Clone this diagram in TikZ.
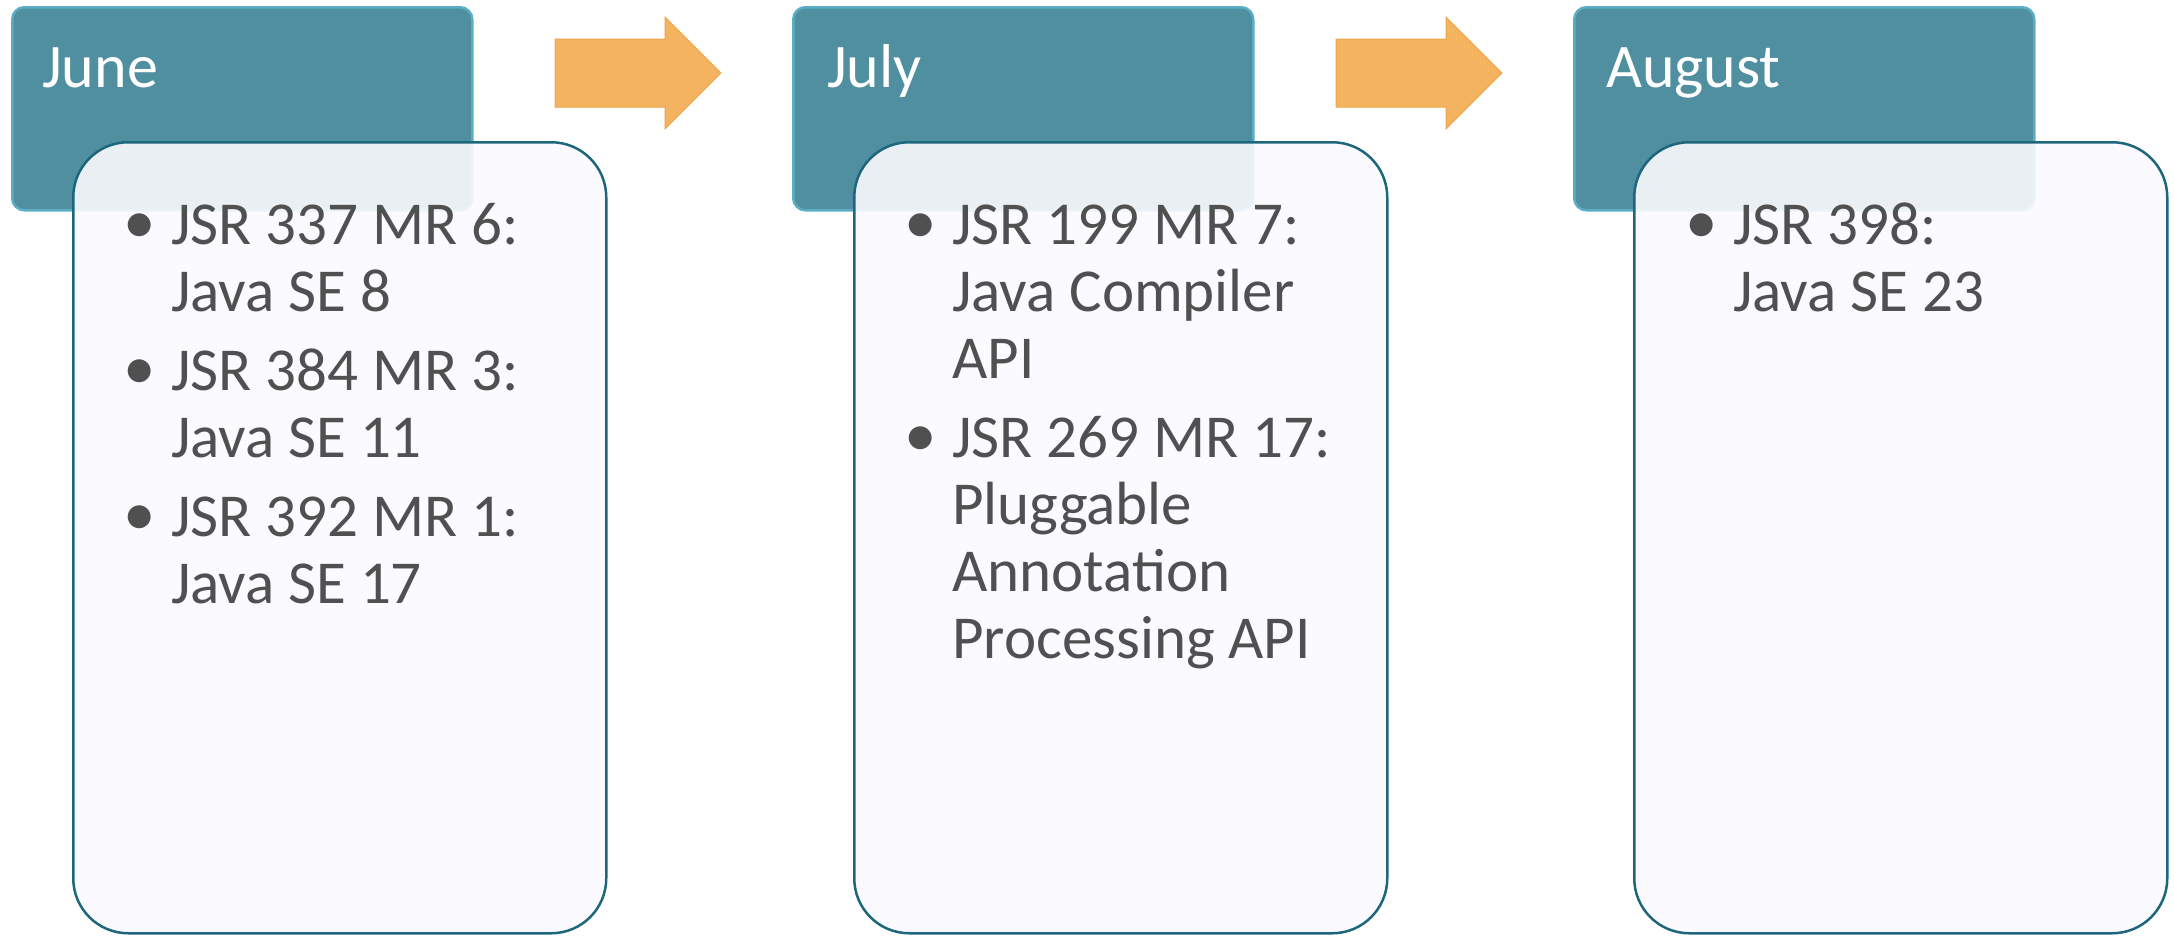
\documentclass[tikz,border=0pt]{standalone}
\usepackage{fontspec}
\setmainfont{Carlito}
\definecolor{hdrfill}{HTML}{4F8FA0}
\definecolor{hdredge}{HTML}{5BADC4}
\definecolor{bodyfill}{HTML}{FBFAFE}
\definecolor{bodyedge}{HTML}{1E667C}
\definecolor{txt}{HTML}{505050}
\definecolor{arrfill}{HTML}{F4B35E}
\definecolor{arredge}{HTML}{EFA54E}
\newcommand{\bigbullet}{\makebox[42pt][l]{\hspace*{-6pt}\raisebox{1pt}{\fontsize{65}{67}\selectfont\textbullet}}}
\newcommand{\bitem}[1]{\hangindent=42pt\hangafter=1\noindent\bigbullet#1\par}
\newcommand{\blist}[1]{\begin{minipage}[t]{470pt}\raggedright\fontsize{61}{67}\selectfont\setlength{\parskip}{12pt}#1\end{minipage}}
\tikzset{
  hdr/.style={draw=hdredge, line width=2.5pt, fill=hdrfill, rounded corners=12pt, minimum width=460pt, minimum height=203pt, anchor=north west, inner sep=0pt},
  hdrtext/.style={text=white, font=\fontsize{62}{67}\selectfont, anchor=base west, inner sep=0pt},
  bodybox/.style={draw=bodyedge, line width=2.5pt, fill=bodyfill, fill opacity=0.9, rounded corners=55pt, minimum width=533pt, minimum height=791pt, anchor=north west, inner sep=0pt},
  bodytext/.style={text=txt, anchor=base west, inner sep=0pt},
  arrowshape/.style={fill=arrfill, draw=arredge, line width=1pt, line join=miter}
}
\begin{document}
\begin{tikzpicture}[x=1pt,y=-1pt]
\useasboundingbox (0,0) rectangle (2174,935);
% June
\node[hdr] (h1) at (11,6) {};
\node[hdrtext] (ht1) at (42,87) {June};
\node[bodybox] (b1) at (72,141) {};
\node[bodytext] (bt1) at (129,244) {\blist{\bitem{JSR 337 MR 6:\newline Java SE 8}\bitem{JSR 384 MR 3:\newline Java SE 11}\bitem{JSR 392 MR 1:\newline Java SE 17}}};
% arrow 1
\draw[arrowshape] (555,39) -- (665,39) -- (665,17) -- (721,73) -- (665,129) -- (665,107) -- (555,107) -- cycle;
% July
\node[hdr] (h2) at (792,6) {};
\node[hdrtext] (ht2) at (827,87) {July};
\node[bodybox] (b2) at (853,141) {};
\node[bodytext] (bt2) at (910,244) {\blist{\bitem{JSR 199 MR 7:\newline Java Compiler\newline API}\bitem{JSR 269 MR 17:\newline Pluggable\newline Annotation\newline Processing API}}};
% arrow 2
\draw[arrowshape] (1336,39) -- (1446,39) -- (1446,17) -- (1502,73) -- (1446,129) -- (1446,107) -- (1336,107) -- cycle;
% August
\node[hdr] (h3) at (1573,6) {};
\node[hdrtext] (ht3) at (1606,87) {August};
\node[bodybox] (b3) at (1633,141) {};
\node[bodytext] (bt3) at (1691,244) {\blist{\bitem{JSR 398:\newline Java SE 23}}};
\end{tikzpicture}
\end{document}
